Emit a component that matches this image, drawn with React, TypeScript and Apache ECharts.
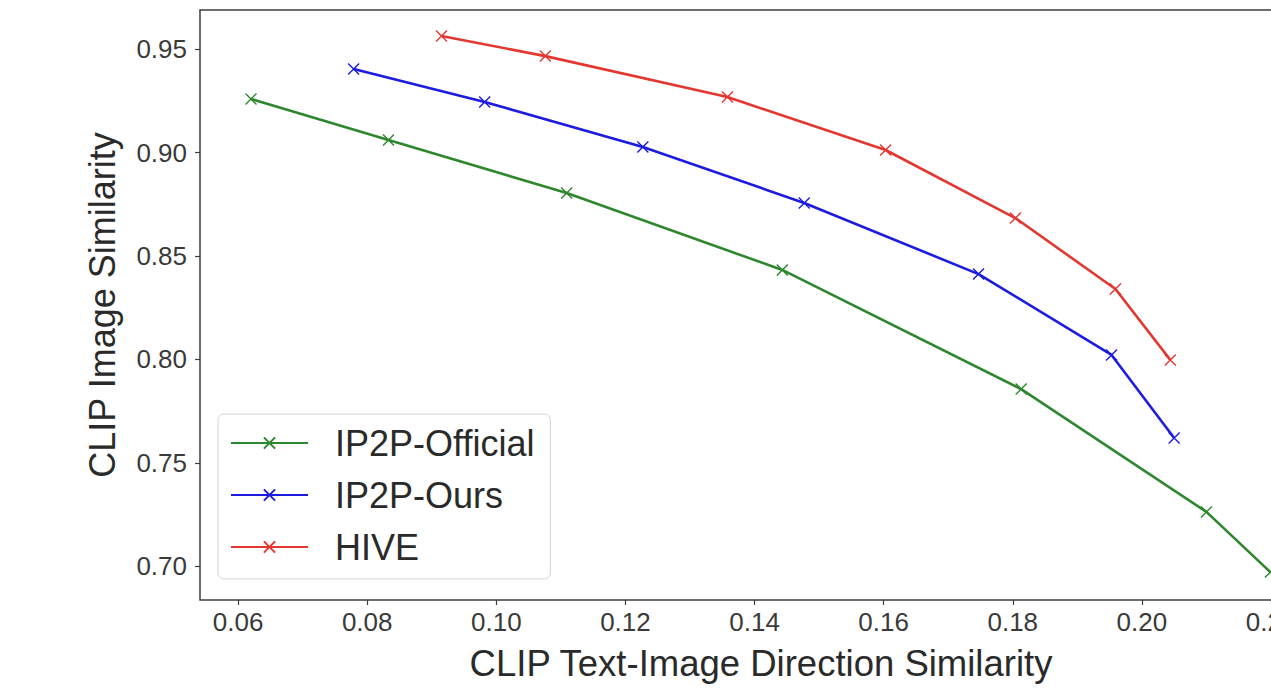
import React, { useEffect, useRef } from "react";
import * as echarts from "echarts";

const seriesNames = ["IP2P-Official", "IP2P-Ours", "HIVE"];
const officialX = [0.062, 0.0833, 0.1109, 0.1443, 0.1813, 0.21, 0.2199];
const officialY = [0.926, 0.9061, 0.8805, 0.8433, 0.7857, 0.7263, 0.6972];
const oursX = [0.0779, 0.0982, 0.1227, 0.1477, 0.1747, 0.1953, 0.205];
const oursY = [0.9405, 0.9245, 0.9028, 0.8757, 0.8413, 0.8022, 0.762];
const hiveX = [0.0915, 0.1076, 0.1358, 0.1603, 0.1804, 0.1959, 0.2044];
const hiveY = [0.9564, 0.9467, 0.9269, 0.9013, 0.8684, 0.8341, 0.7998];
const xTicks = [0.06, 0.08, 0.1, 0.12, 0.14, 0.16, 0.18, 0.2, 0.22];
const yTicks = [0.7, 0.75, 0.8, 0.85, 0.9, 0.95];
const colors = ["#2e872e", "#1c1ce0", "#e4372f"];

const FONT = "'Liberation Sans', Arial, Helvetica, sans-serif";
const XMARK = "path://M0,0L10,10M10,0L0,10";

function pairs(xs: number[], ys: number[]) {
  return xs.map((x, i) => [x, ys[i]]);
}

export default function App() {
  const ref = useRef<HTMLDivElement>(null);
  useEffect(() => {
    if (!ref.current) return;
    const chart = echarts.init(ref.current, undefined, { renderer: "svg" });
    const datas = [pairs(officialX, officialY), pairs(oursX, oursY), pairs(hiveX, hiveY)];
    chart.setOption({
      animation: false,
      textStyle: { fontFamily: FONT },
      grid: {
        left: 200,
        top: 10,
        right: 18,
        bottom: 91,
        show: true,
        borderColor: "#3c3c3c",
        borderWidth: 1.5,
        backgroundColor: "transparent",
      },
      legend: {
        orient: "vertical",
        left: 218,
        top: 414,
        data: seriesNames,
        itemWidth: 77,
        itemHeight: 14,
        itemGap: 12,
        padding: [9, 16, 12, 12],
        borderColor: "#d4d4d4",
        borderWidth: 1,
        borderRadius: 6,
        backgroundColor: "#ffffff",
        textStyle: {
          fontSize: 36,
          lineHeight: 40,
          color: "#2a2a2a",
          fontFamily: FONT,
          padding: [0, 0, 0, 22],
        },
      },
      xAxis: {
        type: "value",
        min: 0.0541,
        max: 0.2279,
        name: "CLIP Text-Image Direction Similarity",
        nameLocation: "middle",
        nameGap: 45,
        nameTextStyle: { fontSize: 36.5, color: "#2a2a2a", fontFamily: FONT },
        axisLine: { show: false },
        splitLine: { show: false },
        axisTick: {
          show: true,
          length: 5,
          lineStyle: { color: "#3c3c3c", width: 1.2 },
          customValues: xTicks,
        },
        axisLabel: {
          fontSize: 26,
          color: "#3a3a3a",
          margin: 9,
          fontFamily: FONT,
          customValues: xTicks,
          formatter: (v: number) => v.toFixed(2),
        },
      },
      yAxis: {
        type: "value",
        min: 0.6837,
        max: 0.969,
        name: "CLIP Image Similarity",
        nameLocation: "middle",
        nameGap: 80,
        nameTextStyle: { fontSize: 36, color: "#2a2a2a", fontFamily: FONT },
        axisLine: { show: false },
        splitLine: { show: false },
        axisTick: {
          show: true,
          length: 5,
          lineStyle: { color: "#3c3c3c", width: 1.2 },
          customValues: yTicks,
        },
        axisLabel: {
          fontSize: 26,
          color: "#3a3a3a",
          margin: 13,
          fontFamily: FONT,
          customValues: yTicks,
          formatter: (v: number) => v.toFixed(2),
        },
      },
      series: seriesNames.map((name, i) => ({
        name,
        type: "line",
        data: datas[i],
        symbol: XMARK,
        symbolSize: 11,
        showSymbol: true,
        lineStyle: { color: colors[i], width: 2.6 },
        itemStyle: { color: colors[i], borderColor: colors[i], borderWidth: 1.4 },
        emphasis: { disabled: true },
        z: 3 - i,
      })),
    });
    return () => chart.dispose();
  }, []);
  return (
    <div
      style={{
        position: "fixed",
        left: 0,
        top: 0,
        width: 1271,
        height: 691,
        overflow: "hidden",
        background: "#ffffff",
      }}
    >
      <div ref={ref} style={{ width: 1340, height: 691 }} />
    </div>
  );
}
